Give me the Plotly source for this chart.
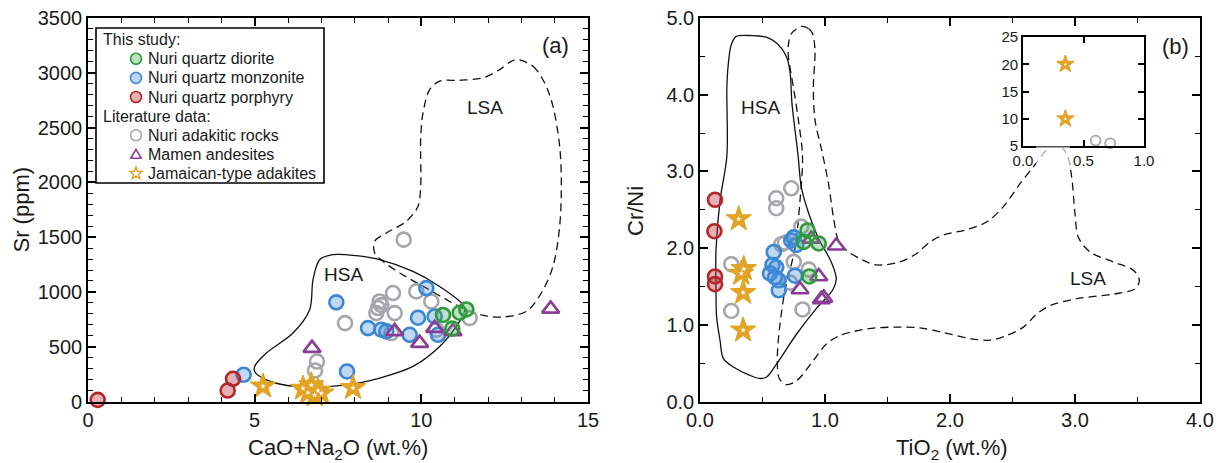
import math
import plotly.graph_objects as go

FONT = "Liberation Sans, Arial, Helvetica, sans-serif"
W, H = 1220, 463

# ---------------- (a) Sr vs CaO+Na2O ----------------
a_diorite_x = [10.65, 10.93, 11.15, 11.35]
a_diorite_y = [790, 665, 810, 840]
a_monzonite_x = [4.67, 7.45, 7.77, 8.40, 8.80, 8.95, 9.65, 9.90, 10.15, 10.40, 10.50]
a_monzonite_y = [244, 905, 274, 670, 655, 640, 609, 765, 1035, 776, 609]
a_porphyry_x = [0.29, 4.19, 4.35]
a_porphyry_y = [15, 100, 207]
a_adakitic_x = [9.47, 7.71, 6.87, 6.81, 9.15, 8.75, 8.70, 8.65, 9.20, 9.85, 10.30, 11.45, 10.45, 9.10, 8.80]
a_adakitic_y = [1477, 715, 365, 283, 990, 913, 853, 807, 807, 1005, 913, 762, 655, 625, 880]
a_mamen_x = [6.72, 9.20, 9.95, 10.40, 10.95, 13.88]
a_mamen_y = [487, 640, 533, 670, 640, 845]
a_jamaica_x = [5.25, 6.45, 6.60, 6.70, 6.80, 6.90, 7.00, 7.95]
a_jamaica_y = [140, 120, 80, 150, 60, 100, 75, 125]

# HSA / LSA field boundaries
a_hsa_x = [5.0, 5.35, 6.15, 6.65, 6.75, 6.95, 7.34, 8.05, 8.75, 9.75, 10.55, 11.25, 11.3,
           11.05, 10.55, 9.75, 8.75, 7.75, 6.25, 5.35, 5.0, 5.0]
a_hsa_y = [320, 442, 625, 838, 1111, 1294, 1340, 1331, 1294, 1187, 1050, 883, 822,
           685, 502, 320, 214, 152, 137, 198, 274, 320]
a_lsa_x = [12.85, 13.35, 13.7, 13.95, 14.15, 14.2, 14.15, 13.95, 13.6, 13.15, 12.45, 11.9,
           11.35, 10.85, 10.15, 9.35, 8.85, 8.6, 8.6, 8.95, 9.55, 9.9, 9.98, 9.98, 10.05,
           10.25, 10.55, 11.15, 11.85, 12.35, 12.65, 12.85]
a_lsa_y = [3121, 3060, 2907, 2694, 2329, 1995, 1598, 1233, 990, 822, 771, 783,
           837, 913, 1035, 1173, 1279, 1355, 1461, 1538, 1644, 1781, 1964, 2390, 2634,
           2847, 2923, 2932, 2954, 3029, 3096, 3121]

# ---------------- (b) Cr/Ni vs TiO2 ----------------
b_diorite_x = [0.86, 0.83, 0.95, 0.875]
b_diorite_y = [2.23, 2.08, 2.06, 1.63]
b_monzonite_x = [0.59, 0.58, 0.61, 0.56, 0.63, 0.63, 0.76, 0.73, 0.77, 0.75, 0.60]
b_monzonite_y = [1.95, 1.78, 1.75, 1.67, 1.58, 1.45, 1.64, 2.10, 2.04, 2.14, 1.62]
b_porphyry_x = [0.12, 0.115, 0.12, 0.12]
b_porphyry_y = [2.63, 2.22, 1.63, 1.53]
b_adakitic_x = [0.73, 0.61, 0.61, 0.25, 0.25, 0.82, 0.81, 0.68, 0.75, 0.87, 0.72, 0.65]
b_adakitic_y = [2.78, 2.65, 2.52, 1.79, 1.18, 1.20, 2.28, 2.07, 1.82, 1.72, 1.55, 2.05]
b_mamen_x = [0.89, 1.09, 0.95, 0.80, 0.97, 0.99]
b_mamen_y = [2.12, 2.03, 1.63, 1.46, 1.33, 1.35]
b_jamaica_x = [0.31, 0.35, 0.33, 0.345, 0.345]
b_jamaica_y = [2.38, 1.73, 1.67, 1.42, 0.93]

# inset: high Cr/Ni samples
inset_jamaica_x = [0.35, 0.35]
inset_jamaica_y = [20.0, 10.0]
inset_adakitic_x = [0.60, 0.72]
inset_adakitic_y = [6.0, 5.5]

b_hsa_x = [0.29, 0.42, 0.53, 0.615, 0.69, 0.72, 0.735, 0.76, 0.785, 0.81, 0.86, 0.95, 1.05,
           1.09, 1.06, 0.94, 0.773, 0.613, 0.533, 0.48, 0.40, 0.267, 0.187, 0.16, 0.133,
           0.128, 0.128, 0.16, 0.215, 0.215, 0.227, 0.25, 0.29]
b_hsa_y = [4.76, 4.77, 4.75, 4.67, 4.5, 4.3, 3.9, 3.54, 3.2, 2.8, 2.5, 2.12, 1.82,
           1.6, 1.45, 1.23, 0.88, 0.49, 0.32, 0.30, 0.34, 0.45, 0.56, 0.80, 1.1,
           1.45, 1.97, 2.62, 3.2, 4.1, 4.41, 4.65, 4.76]
b_lsa_x = [0.813, 0.87, 0.90, 0.92, 0.907, 0.92, 0.973, 1.027, 1.067, 1.107, 1.173, 1.307,
           1.413, 1.6, 1.733, 1.84, 1.947, 2.133, 2.293, 2.427, 2.56, 2.667, 2.773, 2.853,
           2.933, 2.973, 3.0, 3.027, 3.12, 3.307, 3.467, 3.515, 3.48, 3.307, 3.013, 2.8,
           2.693, 2.587, 2.453, 2.32, 2.16, 1.947, 1.76, 1.6, 1.413, 1.28, 1.12, 1.013,
           0.907, 0.773, 0.693, 0.635, 0.619, 0.64, 0.68, 0.76, 0.80, 0.82, 0.787, 0.747,
           0.707, 0.707, 0.733, 0.813]
b_lsa_y = [4.89, 4.86, 4.8, 4.58, 4.10, 3.67, 3.28, 2.85, 2.41, 2.1, 1.97, 1.84,
           1.78, 1.82, 1.93, 2.08, 2.17, 2.24, 2.34, 2.54, 2.84, 3.06, 3.28, 3.36,
           3.23, 2.93, 2.45, 2.14, 1.95, 1.82, 1.71, 1.58, 1.47, 1.40, 1.34, 1.25,
           1.14, 0.97, 0.86, 0.80, 0.82, 0.90, 0.96, 0.97, 0.96, 0.93, 0.862, 0.753,
           0.535, 0.27, 0.22, 0.296, 0.58, 1.01, 1.45, 2.0, 2.62, 3.2, 3.67, 4.10,
           4.5, 4.65, 4.8, 4.89]

# legend entries: (group heading or None, label, key symbol)
legend_rows = [
    ("This study:", None, None),
    (None, "Nuri quartz diorite", "diorite"),
    (None, "Nuri quartz monzonite", "monzonite"),
    (None, "Nuri quartz porphyry", "porphyry"),
    ("Literature data:", None, None),
    (None, "Nuri adakitic rocks", "adakitic"),
    (None, "Mamen andesites", "mamen"),
    (None, "Jamaican-type adakites", "jamaica"),
]

# ---------------- styles ----------------
GREEN_E, GREEN_F = "#2f9a3b", "rgba(70,170,80,0.35)"
BLUE_E, BLUE_F = "#3b87d4", "rgba(74,144,217,0.35)"
RED_E, RED_F = "#b3262a", "rgba(190,50,55,0.38)"
GRAY = "#a5a7ac"
PURPLE = "#8a3d94"
GOLD = "#e2a426"
INK = "#1a1a1a"


def filled(name, x, y, edge, fill, xa, ya):
    return go.Scatter(x=x, y=y, mode="markers", name=name, showlegend=False,
                      xaxis=xa, yaxis=ya, cliponaxis=False,
                      marker=dict(symbol="circle", size=14, color=fill,
                                  line=dict(color=edge, width=2.6)))


def hollow(name, x, y, color, symbol, size, lw, xa, ya):
    return go.Scatter(x=x, y=y, mode="markers", name=name, showlegend=False,
                      xaxis=xa, yaxis=ya, cliponaxis=False,
                      marker=dict(symbol=symbol, size=size, color=color,
                                  line=dict(color=color, width=lw)))


def stars(x, y, size, xa, ya):
    # thick gold star with a small white centre
    body = go.Scatter(x=x, y=y, mode="markers", name="Jamaican-type adakites",
                      showlegend=False, xaxis=xa, yaxis=ya, cliponaxis=False,
                      marker=dict(symbol="star", size=size, color=GOLD,
                                  line=dict(color=GOLD, width=1.2)))
    eye = go.Scatter(x=x, y=y, mode="markers", showlegend=False, hoverinfo="skip",
                     xaxis=xa, yaxis=ya, cliponaxis=False,
                     marker=dict(symbol="star", size=size * 0.22, color="white",
                                 line=dict(width=0)))
    return [body, eye]


def outline(x, y, dashed, xa, ya):
    return go.Scatter(x=x, y=y, mode="lines", showlegend=False, hoverinfo="skip",
                      xaxis=xa, yaxis=ya,
                      line=dict(color="#111111", width=1.3, shape="spline", smoothing=0.9,
                                dash="8px,5px" if dashed else "solid"))


fig = go.Figure()

for xa, ya, hx, hy, lx, ly in [("x", "y", a_hsa_x, a_hsa_y, a_lsa_x, a_lsa_y),
                               ("x2", "y2", b_hsa_x, b_hsa_y, b_lsa_x, b_lsa_y)]:
    fig.add_trace(outline(hx, hy, False, xa, ya))
    fig.add_trace(outline(lx, ly, True, xa, ya))

panels = [
    ("x", "y", a_diorite_x, a_diorite_y, a_monzonite_x, a_monzonite_y, a_porphyry_x, a_porphyry_y,
     a_adakitic_x, a_adakitic_y, a_mamen_x, a_mamen_y, a_jamaica_x, a_jamaica_y),
    ("x2", "y2", b_diorite_x, b_diorite_y, b_monzonite_x, b_monzonite_y, b_porphyry_x, b_porphyry_y,
     b_adakitic_x, b_adakitic_y, b_mamen_x, b_mamen_y, b_jamaica_x, b_jamaica_y),
]
for (xa, ya, dx, dy, mx, my, px, py, kx, ky, tx, ty, jx, jy) in panels:
    fig.add_trace(hollow("Nuri adakitic rocks", kx, ky, GRAY, "circle-open", 14, 2.6, xa, ya))
    fig.add_trace(filled("Nuri quartz monzonite", mx, my, BLUE_E, BLUE_F, xa, ya))
    fig.add_trace(hollow("Mamen andesites", tx, ty, PURPLE, "triangle-up-open", 15, 2.6, xa, ya))
    fig.add_trace(filled("Nuri quartz diorite", dx, dy, GREEN_E, GREEN_F, xa, ya))
    fig.add_trace(filled("Nuri quartz porphyry", px, py, RED_E, RED_F, xa, ya))
    fig.add_traces(stars(jx, jy, 19, xa, ya))

fig.add_trace(hollow("Nuri adakitic rocks", inset_adakitic_x, inset_adakitic_y, GRAY,
                     "circle-open", 10, 1.8, "x3", "y3"))
fig.add_traces(stars(inset_jamaica_x, inset_jamaica_y, 13, "x3", "y3"))

axis_common = dict(showgrid=False, zeroline=False, showline=True, linecolor="black",
                   linewidth=1.6, mirror="allticks", ticks="inside", ticklen=8,
                   tickwidth=1.6, tickcolor="black", automargin=False,
                   tickfont=dict(family=FONT, size=20, color=INK))
inset_common = dict(showgrid=False, zeroline=False, showline=True, linecolor="black",
                    linewidth=1.6, mirror="allticks", ticks="inside", ticklen=6,
                    tickwidth=1.6, tickcolor="black", automargin=False,
                    tickfont=dict(family=FONT, size=15, color=INK))


def minor(step):
    return dict(dtick=step, ticks="inside", ticklen=5, tickwidth=1.4, tickcolor="black")


def px_x(p):
    return p / W


def px_y(p):
    return 1 - p / H


fig.update_layout(
    width=W, height=H, margin=dict(l=0, r=0, t=0, b=0, autoexpand=False),
    paper_bgcolor="white", plot_bgcolor="white", showlegend=False,
    font=dict(family=FONT, color=INK),
    xaxis=dict(domain=[px_x(88), px_x(588)], range=[0, 15], tickvals=[0, 5, 10, 15],
               minor=minor(1), anchor="y", **axis_common),
    yaxis=dict(domain=[px_y(401.5), px_y(18)], range=[0, 3500], dtick=500,
               minor=minor(100), anchor="x", **axis_common),
    xaxis2=dict(domain=[px_x(700), px_x(1200)], range=[0, 4], dtick=1, tickformat=".1f",
                minor=minor(0.5), anchor="y2", **axis_common),
    yaxis2=dict(domain=[px_y(401.5), px_y(18)], range=[0, 5], dtick=1, tickformat=".1f",
                minor=minor(0.5), anchor="x2", **axis_common),
    xaxis3=dict(domain=[px_x(1023), px_x(1144)], range=[0, 1], dtick=0.5, tickformat=".1f",
                anchor="y3", **inset_common),
    yaxis3=dict(domain=[px_y(146), px_y(37)], range=[5, 25], dtick=5,
                anchor="x3", **inset_common),
)

ann = []


def label(text, x, y, xref, yref, size, xanchor="center", yanchor="middle", **kw):
    ann.append(dict(text=text, x=x, y=y, xref=xref, yref=yref, showarrow=False,
                    xanchor=xanchor, yanchor=yanchor,
                    font=dict(family=FONT, size=size, color=INK), **kw))


label("Sr (ppm)", px_x(20.5), px_y(210), "paper", "paper", 22, textangle=-90)
label("CaO+Na<sub>2</sub>O (wt.%)", px_x(338), px_y(449), "paper", "paper", 22)
label("Cr/Ni", px_x(635), px_y(211), "paper", "paper", 22, textangle=-90)
label("TiO<sub>2</sub> (wt.%)", px_x(952), px_y(449), "paper", "paper", 22)
label("(a)", 14.03, 3249, "x", "y", 22)
label("(b)", 3.80, 4.63, "x2", "y2", 22)
label("HSA", 7.65, 1157, "x", "y", 19)
label("LSA", 11.9, 2680, "x", "y", 19)
label("HSA", 0.48, 3.83, "x2", "y2", 19)
label("LSA", 3.10, 1.60, "x2", "y2", 19)

# ---------------- legend box ----------------
shapes = []
LEG_L, LEG_T, LEG_R, LEG_B = 96, 28, 324, 183
ROW0, ROW_STEP = 39.7, 19.1
KEY_X, TEXT_X, HEAD_X = 136, 146, 101

shapes.append(dict(type="rect", xref="paper", yref="paper", layer="above",
                   x0=px_x(LEG_L), x1=px_x(LEG_R), y0=px_y(LEG_B), y1=px_y(LEG_T),
                   fillcolor="white", line=dict(color="black", width=1.6)))


def key_circle(cx, cy, r, fill, edge, lw):
    shapes.append(dict(type="circle", xref="paper", yref="paper", layer="above",
                       x0=px_x(cx - r), x1=px_x(cx + r), y0=px_y(cy + r), y1=px_y(cy - r),
                       fillcolor=fill, line=dict(color=edge, width=lw)))


def key_poly(cx, cy, radii, n, color, lw):
    pts = []
    for i in range(n * len(radii)):
        r = radii[i % len(radii)]
        ang = -math.pi / 2 + i * 2 * math.pi / (n * len(radii))
        pts.append((px_x(cx + r * math.cos(ang)), px_y(cy + r * math.sin(ang))))
    path = "M " + " L ".join(f"{x:.5f},{y:.5f}" for x, y in pts) + " Z"
    shapes.append(dict(type="path", xref="paper", yref="paper", layer="above", path=path,
                       fillcolor="rgba(0,0,0,0)", line=dict(color=color, width=lw)))


key_styles = {
    "diorite": ("circle", GREEN_F, GREEN_E),
    "monzonite": ("circle", BLUE_F, BLUE_E),
    "porphyry": ("circle", RED_F, RED_E),
    "adakitic": ("circle", "white", GRAY),
    "mamen": ("triangle", None, PURPLE),
    "jamaica": ("star", None, GOLD),
}

for i, (head, text, key) in enumerate(legend_rows):
    cy = ROW0 + i * ROW_STEP
    if head:
        label(head, px_x(HEAD_X), px_y(cy), "paper", "paper", 16, xanchor="left")
        continue
    label(text, px_x(TEXT_X), px_y(cy), "paper", "paper", 16, xanchor="left")
    kind, fill, edge = key_styles[key]
    if kind == "circle":
        key_circle(KEY_X, cy, 5.5, fill, edge, 1.6)
    elif kind == "triangle":
        key_poly(KEY_X, cy + 1, [6.0], 3, edge, 1.6)
    else:
        key_poly(KEY_X, cy, [6.5, 2.7], 5, edge, 1.4)

# soften the field boundary where it runs under the inset's tick labels
shapes.append(dict(type="rect", xref="paper", yref="paper", layer="above",
                   x0=px_x(1036), x1=px_x(1070), y0=px_y(166), y1=px_y(146.5),
                   fillcolor="rgba(255,255,255,0.65)", line=dict(width=0)))

fig.update_layout(annotations=ann, shapes=shapes)

fig.write_html("out.html")
